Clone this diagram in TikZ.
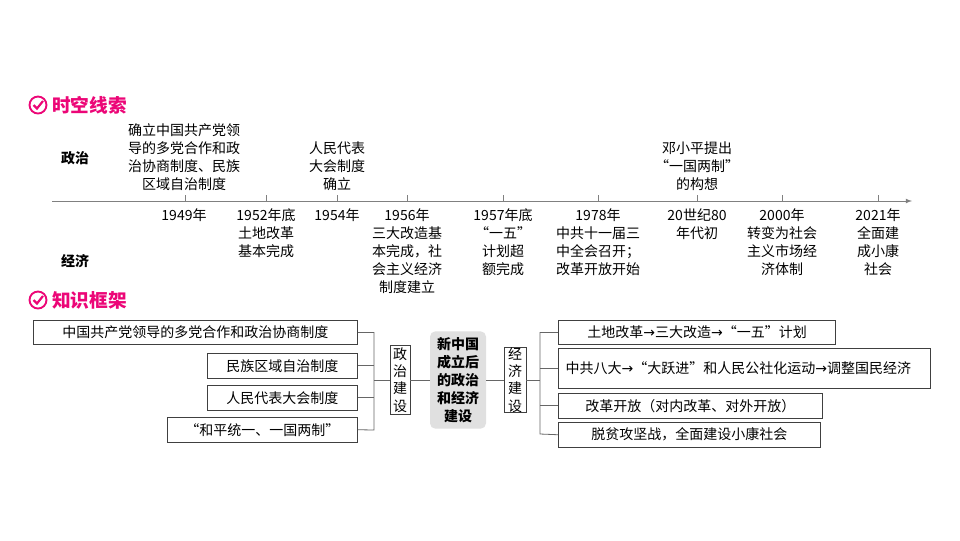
\documentclass[tikz,border=0pt]{standalone}
\usepackage{fontspec}
\setmainfont{Noto Sans CJK SC}
\newfontfamily\dejavu{DejaVu Sans}
\begin{document}
\begin{tikzpicture}[x=0.75pt,y=-0.75pt,
  tl/.style={align=center,font=\fontsize{10.5}{13.5}\selectfont,inner sep=0pt},
  hd/.style={font=\fontsize{14}{16}\selectfont\bfseries,text=magenta!80!red,anchor=west,inner sep=0pt},
  bx/.style={draw=black!75,line width=0.6pt,font=\fontsize{10.5}{14}\selectfont,inner sep=0pt,align=left},
  ln/.style={draw=black!60,line width=0.6pt},
  tick/.style={draw=black!50,line width=0.6pt}]
\fill[white] (0,0) rectangle (960,540);
% headers
\foreach \y/\t [count=\i] in {105/时空线索,300/知识框架}{
  \draw[magenta!80!red,line width=1.4pt] (38,\y) circle (8.5);
  \draw[magenta!80!red,line width=1.6pt] (33.5,\y) -- (37,\y+3.5) -- (43,\y-4);
  \node[hd] (h\i) at (52,\y) {\t};
}
% timeline
\coordinate (ts) at (52,201); \coordinate (te) at (912,201);
\draw[tick,-latex] (ts) -- (te);
\foreach \x in {185,266,337,407,503,598,697,782,878}{\draw[tick] (\x,201) -- (\x,195);}
\node[font=\fontsize{10.5}{12}\selectfont\bfseries] (zz) at (75,158) {政治};
\node[font=\fontsize{10.5}{12}\selectfont\bfseries] (jj) at (75,261) {经济};
\node[tl,anchor=south] (p1) at (184,191) {确立中国共产党领\\导的多党合作和政\\治协商制度、民族\\区域自治制度};
\node[tl,anchor=south] (p2) at (337,191) {人民代表\\大会制度\\确立};
\node[tl,anchor=south] (p3) at (697,191) {邓小平提出\\“一国两制”\\的构想};
\node[tl,anchor=north] (e1) at (184,208) {1949年};
\node[tl,anchor=north] (e2) at (266,208) {1952年底\\土地改革\\基本完成};
\node[tl,anchor=north] (e3) at (337,208) {1954年};
\node[tl,anchor=north] (e4) at (407,208) {1956年\\三大改造基\\本完成，社\\会主义经济\\制度建立};
\node[tl,anchor=north] (e5) at (503,208) {1957年底\\“一五”\\计划超\\额完成};
\node[tl,anchor=north] (e6) at (598,208) {1978年\\中共十一届三\\中全会召开；\\改革开放开始};
\node[tl,anchor=north] (e7) at (697,208) {20世纪80\\年代初};
\node[tl,anchor=north] (e8) at (782,208) {2000年\\转变为社会\\主义市场经\\济体制};
\node[tl,anchor=north] (e9) at (878,208) {2021年\\全面建\\成小康\\社会};
% framework left
\node[bx,minimum width=243pt,minimum height=18pt,anchor=north west,inner xsep=3pt] (l1) at (33,320) {中国共产党领导的多党合作和政治协商制度};
\node[bx,minimum width=112.5pt,minimum height=18.5pt,anchor=north west,align=center] (l2) at (207,353) {民族区域自治制度};
\node[bx,minimum width=112.5pt,minimum height=18.5pt,anchor=north west,align=center] (l3) at (207,385) {人民代表大会制度};
\node[bx,minimum width=142.5pt,minimum height=18.5pt,anchor=north west,align=center] (l4) at (167,417) {“和平统一、一国两制”};
\coordinate (bl) at (374,380);
\draw[ln] (l1.east) -| (374,332) -- (374,430) -- (l4.east);
\draw[ln] (l2.east) -- (l2.east -| bl);
\draw[ln] (l3.east) -- (l3.east -| bl);
\node[bx,align=center,minimum width=15pt,minimum height=52pt,font=\fontsize{10.5}{13}\selectfont] (zb) at (400,380) {政\\治\\建\\设};
\draw[ln] (bl) -- (zb.west);
\node[fill=black!12,rounded corners=4pt,align=center,minimum width=42pt,minimum height=73pt,inner sep=1pt,font=\fontsize{10.5}{13.5}\selectfont\bfseries] (c) at (458,380) {新中国\\成立后\\的政治\\和经济\\建设};
\draw[ln] (zb.east) -- (c.west);
\node[bx,align=center,minimum width=16.5pt,minimum height=49pt,font=\fontsize{10.5}{13}\selectfont] (jb) at (515,380) {经\\济\\建\\设};
\draw[ln] (c.east) -- (jb.west);
\coordinate (br) at (540,380);
\draw[ln] (jb.east) -- (br);
\node[bx,minimum width=208pt,minimum height=18pt,anchor=north west,inner xsep=6pt] (r1) at (558,320) {土地改革{\dejavu →}三大改造{\dejavu →}“一五”计划};
\node[bx,minimum width=279pt,minimum height=30pt,anchor=north west,inner xsep=5pt,text width=268pt,font=\fontsize{10.5}{14.5}\selectfont] (r2) at (558,348) {中共八大{\dejavu →}“大跃进”和人民公社化运动{\dejavu →}调整国民经济};
\node[bx,minimum width=198pt,minimum height=18.5pt,anchor=north west,inner xsep=6pt] (r3) at (558,393) {改革开放（对内改革、对外开放）};
\node[bx,minimum width=196.5pt,minimum height=18.5pt,anchor=north west,inner xsep=6pt] (r4) at (558,422) {脱贫攻坚战，全面建设小康社会};
\draw[ln] (r1.west) -| (540,332) -- (540,434) -- (r4.west);
\draw[ln] (r2.west) -- (r2.west -| br);
\draw[ln] (r3.west) -- (r3.west -| br);
\end{tikzpicture}
\end{document}
